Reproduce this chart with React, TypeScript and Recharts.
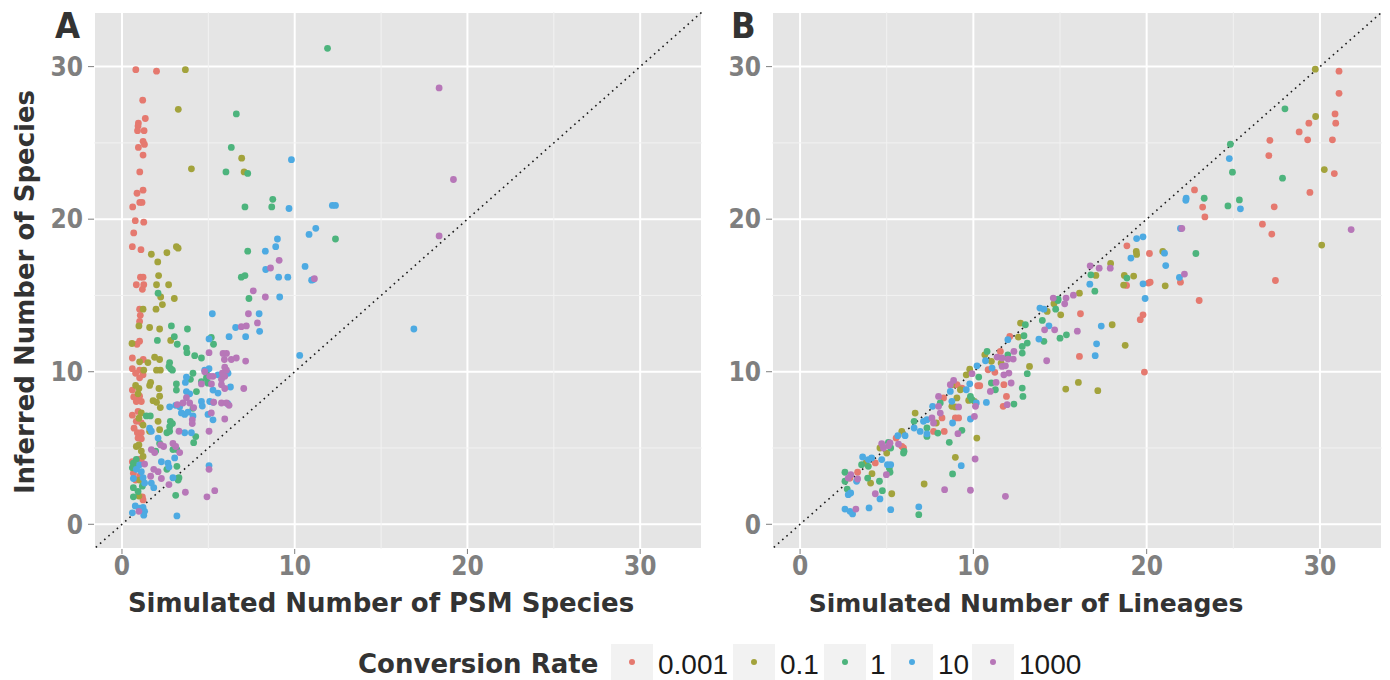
import React from "react";
import { ScatterChart, Scatter, XAxis, YAxis, CartesianGrid, ReferenceLine } from "recharts";

// conversion-rate levels and their colours
const RATES = ["0.001", "0.1", "1", "10", "1000"];
const COLORS = ["#E5796F", "#A3A33C", "#4DB47D", "#4DAAE2", "#B777B8"];
const TICKS = [0, 10, 20, 30];
const MINOR = [5, 15, 25];

// Panel A: [simulated PSM species, inferred species]
const a001 = [
  [0.8, 29.8], [2.0, 29.7], [1.2, 27.8], [1.35, 26.6], [0.95, 26.3], [0.93, 26.1], [0.9, 25.8], [1.28, 25.8],
  [1.22, 25.1], [1.3, 24.9], [0.95, 24.7], [1.22, 24.2], [1.03, 23.1], [1.22, 21.9], [0.87, 21.7], [1.03, 21.1],
  [1.16, 21.1], [0.62, 20.8], [0.77, 19.9], [1.26, 19.8], [0.68, 19.1], [0.6, 18.2], [1.1, 18.0], [1.07, 16.2],
  [1.22, 16.2], [0.83, 15.7], [1.26, 15.7], [1.18, 15.4], [1.02, 14.1], [1.06, 13.7], [1.02, 13.3], [0.87, 11.8],
  [1.02, 12.0], [0.6, 10.9], [1.23, 10.8], [0.6, 10.2], [1.02, 10.1], [0.79, 9.9], [1.22, 9.8], [1.02, 9.6],
  [0.6, 8.8], [0.68, 8.35], [0.83, 8.05], [1.12, 8.05], [1.02, 8.4], [0.6, 7.15], [0.93, 7.4], [0.83, 6.75],
  [1.12, 6.65], [0.7, 6.3], [0.89, 6.0], [1.12, 6.0], [0.93, 5.65], [1.12, 5.6], [0.6, 4.1], [0.98, 4.25],
  [1.12, 4.1], [0.66, 3.35], [0.79, 2.9], [1.02, 3.15], [1.18, 1.8], [1.22, 1.6],
];
const a01 = [
  [3.67, 29.8], [3.26, 27.2], [4.02, 23.3], [6.93, 24.0], [7.07, 23.1], [1.7, 17.7], [2.6, 17.8], [3.15, 18.2],
  [3.25, 18.1], [2.07, 17.2], [2.12, 16.3], [2.0, 15.7], [2.7, 15.7], [2.24, 14.9], [3.03, 14.8], [2.34, 14.4],
  [1.97, 14.1], [1.22, 14.1], [0.98, 13.0], [1.6, 12.9], [2.18, 12.8], [0.58, 11.85], [2.82, 12.05], [1.89, 10.95],
  [2.18, 10.8], [1.02, 10.65], [1.5, 10.6], [1.26, 10.1], [2.0, 10.1], [2.22, 10.1], [1.66, 9.3], [1.6, 9.1],
  [0.79, 9.1], [0.98, 8.9], [0.93, 8.55], [2.14, 8.9], [2.18, 8.4], [1.8, 8.1], [2.0, 8.0], [2.22, 7.65],
  [1.12, 7.3], [0.98, 6.95], [1.22, 6.5], [2.09, 6.75], [2.18, 6.2], [1.6, 6.1], [0.98, 5.2], [0.83, 5.1],
  [1.12, 4.8], [1.22, 4.45], [1.02, 2.9], [1.22, 2.8], [0.98, 1.85],
];
const a1 = [
  [6.62, 26.9], [6.33, 24.7], [6.02, 23.1], [7.28, 23.0], [8.73, 21.3], [8.67, 20.8], [7.12, 20.8], [7.28, 17.9],
  [6.91, 16.2], [7.12, 16.3], [11.9, 31.2], [12.36, 18.7], [2.09, 15.15], [7.35, 14.8], [2.86, 13.0], [3.79, 12.8],
  [2.05, 12.05], [3.03, 12.3], [3.2, 11.8], [5.17, 12.25], [5.3, 11.8], [3.73, 11.55], [3.76, 11.25], [4.21, 11.05],
  [4.6, 10.9], [2.76, 10.6], [2.72, 10.35], [2.82, 10.2], [2.92, 10.1], [4.11, 9.9], [3.96, 9.5], [4.6, 9.35],
  [4.89, 9.6], [4.98, 9.25], [4.89, 9.9], [4.31, 8.7], [3.15, 9.2], [3.15, 8.8], [4.11, 7.6], [1.41, 7.1],
  [1.64, 7.1], [2.8, 6.75], [2.92, 6.6], [2.76, 6.4], [2.6, 6.0], [2.76, 6.1], [4.27, 5.75], [4.15, 5.35],
  [2.18, 5.3], [1.95, 4.8], [2.95, 4.9], [3.18, 4.9], [0.66, 4.0], [0.83, 4.25], [0.6, 3.7], [0.87, 3.8],
  [2.6, 3.6], [3.18, 3.8], [0.66, 2.4], [0.93, 2.15], [1.18, 2.5], [3.3, 3.05], [3.25, 2.9], [0.66, 1.8],
  [3.11, 1.9],
];
const a10 = [
  [9.81, 23.9], [9.67, 20.7], [10.83, 19.0], [9.0, 18.7], [8.9, 18.2], [8.3, 17.9], [10.6, 16.9], [8.32, 16.7],
  [9.07, 16.2], [9.6, 16.2], [12.18, 20.9], [12.36, 20.9], [11.22, 19.4], [10.98, 16.0], [11.08, 16.05], [9.13, 14.9],
  [16.9, 12.8], [10.29, 11.07], [5.23, 13.8], [7.94, 13.8], [6.58, 12.9], [7.97, 12.65], [7.16, 12.3], [5.04, 12.15],
  [6.2, 12.3], [3.73, 9.65], [3.67, 9.3], [5.04, 10.2], [4.79, 10.1], [5.56, 9.8], [6.14, 9.9], [6.28, 9.0],
  [5.27, 8.8], [5.56, 8.6], [3.73, 8.7], [3.92, 8.55], [2.76, 7.7], [3.11, 7.8], [3.34, 7.7], [4.6, 8.05],
  [4.65, 7.75], [5.08, 8.05], [5.27, 8.0], [6.12, 7.9], [3.63, 7.2], [3.82, 7.35], [3.44, 7.3], [4.11, 7.1],
  [4.98, 7.2], [5.27, 6.85], [1.6, 6.3], [1.7, 6.1], [3.63, 6.0], [4.02, 6.0], [2.09, 5.65], [3.05, 4.35],
  [1.02, 3.9], [0.83, 3.6], [2.28, 4.1], [2.66, 4.0], [2.72, 3.75], [0.66, 3.0], [1.22, 3.05], [1.12, 3.45],
  [1.31, 2.7], [1.7, 2.7], [1.84, 2.4], [2.95, 3.05], [5.04, 3.85], [0.77, 1.2], [1.22, 1.1], [1.31, 0.85],
  [0.6, 0.75], [1.02, 1.05], [1.26, 0.6], [3.18, 0.55],
];
const a1000 = [
  [9.1, 17.3], [8.6, 16.8], [18.36, 28.6], [19.19, 22.6], [18.36, 18.9], [11.14, 16.1], [7.6, 15.3], [8.3, 14.9],
  [7.32, 13.8], [7.84, 13.2], [7.2, 13.0], [6.91, 12.95], [5.04, 11.25], [5.85, 11.2], [6.05, 11.2], [5.93, 10.8],
  [6.33, 10.8], [6.62, 10.9], [7.16, 10.7], [4.79, 10.0], [5.08, 9.7], [5.27, 9.7], [5.76, 9.5], [5.95, 9.7],
  [5.81, 9.9], [6.05, 10.1], [5.95, 10.3], [5.76, 9.15], [5.95, 8.9], [7.05, 8.9], [4.6, 9.2], [5.18, 9.2],
  [3.73, 8.3], [3.53, 7.95], [3.92, 7.95], [4.15, 7.65], [3.2, 7.85], [5.31, 8.0], [5.76, 7.95], [6.05, 7.95],
  [6.2, 7.8], [5.17, 7.3], [4.07, 6.85], [4.07, 6.6], [5.95, 6.9], [3.3, 6.1], [5.04, 6.1], [2.24, 5.2],
  [1.7, 4.9], [1.89, 4.7], [2.41, 5.1], [2.95, 5.3], [3.11, 5.1], [3.34, 4.7], [1.31, 3.95], [2.09, 3.45],
  [1.84, 3.6], [1.66, 3.15], [2.28, 3.0], [2.72, 2.6], [3.67, 2.1], [4.92, 1.8], [5.37, 2.2], [5.04, 3.6],
  [0.98, 0.85],
];

// Panel B: [simulated lineages, inferred species]
const b001 = [
  [2.88, 3.03], [3.32, 3.41], [4.34, 4.02], [5.87, 5.11], [5.97, 5.0], [5.54, 5.65], [7.7, 6.09], [8.19, 6.97],
  [8.32, 6.09], [8.28, 8.28], [8.96, 6.97], [9.15, 6.97], [9.34, 8.93], [9.05, 9.15], [10.25, 9.08], [10.37, 9.08],
  [10.85, 10.13], [11.24, 9.96], [11.56, 11.33], [12.1, 12.31], [11.76, 9.15], [11.91, 8.38], [11.72, 7.73],
  [31.1, 29.7], [31.1, 28.25], [30.87, 26.9], [30.91, 26.29], [29.36, 26.29], [28.8, 25.72], [29.29, 25.2],
  [30.72, 25.2], [27.11, 25.17], [27.05, 24.17], [30.83, 22.99], [29.42, 21.75], [22.76, 21.92], [23.23, 20.79],
  [23.36, 20.15], [27.36, 20.81], [26.68, 19.67], [27.22, 19.02], [27.43, 15.98], [18.86, 18.25], [20.16, 17.75],
  [18.84, 15.66], [20.1, 15.81], [20.2, 15.87], [21.95, 15.87], [23.03, 14.67], [19.79, 13.73], [19.63, 13.41],
  [16.18, 13.8], [16.12, 11.0], [19.87, 9.98],
];
const b01 = [
  [4.07, 2.7], [4.15, 3.32], [3.8, 4.02], [5.29, 2.0], [4.61, 5.0], [5.0, 4.67], [5.87, 6.09], [6.64, 7.29],
  [7.86, 6.64], [8.76, 9.15], [8.76, 7.73], [8.96, 7.69], [9.05, 8.28], [8.96, 4.39], [10.2, 5.65], [7.16, 2.64],
  [9.25, 8.82], [9.59, 9.8], [9.79, 10.17], [9.73, 8.12], [10.06, 8.06], [10.66, 11.11], [11.04, 10.68], [11.6, 10.57],
  [12.6, 12.27], [12.72, 13.19], [13.24, 10.35], [14.26, 13.95], [14.65, 14.45], [15.04, 13.73], [15.33, 8.86],
  [29.73, 29.83], [29.75, 26.73], [30.25, 23.25], [30.1, 18.3], [19.4, 17.88], [19.42, 17.69], [20.93, 17.88],
  [17.92, 17.1], [17.07, 16.31], [18.71, 16.31], [18.67, 15.68], [19.25, 16.27], [21.07, 15.63], [18.01, 13.08],
  [16.12, 15.15], [18.76, 11.73], [16.06, 9.3], [17.18, 8.76],
];
const b1 = [
  [2.59, 3.41], [2.59, 2.82], [2.72, 2.31], [6.85, 0.63], [4.75, 2.2], [3.9, 3.03], [4.58, 2.82], [5.19, 3.41],
  [5.15, 3.69], [3.55, 3.91], [3.94, 3.8], [5.1, 5.37], [5.23, 5.0], [6.0, 4.78], [5.97, 4.67], [6.58, 6.75],
  [7.32, 6.31], [7.32, 5.76], [7.95, 5.98], [8.09, 7.95], [9.34, 6.16], [8.61, 5.37], [8.8, 3.3], [9.83, 8.38],
  [9.92, 8.17], [10.31, 9.65], [10.79, 11.33], [11.04, 9.26], [11.27, 8.82], [11.99, 11.11], [12.82, 11.22],
  [13.0, 13.08], [12.92, 12.36], [12.82, 11.66], [13.11, 11.88], [12.34, 7.88], [12.82, 8.93], [12.86, 8.38],
  [13.11, 9.87], [14.07, 11.99], [13.98, 13.36], [14.75, 14.1], [14.88, 14.67], [15.37, 12.42], [15.0, 12.2],
  [27.98, 27.23], [24.83, 24.91], [24.95, 23.08], [27.84, 22.69], [23.32, 21.37], [24.69, 20.87], [25.35, 21.26],
  [22.84, 17.75], [16.78, 16.35], [17.01, 15.28], [18.86, 16.14], [14.89, 14.76],
];
const b10 = [
  [3.26, 2.82], [2.78, 1.94], [2.92, 2.05], [2.59, 1.0], [2.88, 0.85], [3.03, 0.68], [3.98, 1.07], [5.23, 0.96],
  [6.85, 1.14], [4.61, 1.66], [5.04, 3.91], [5.23, 3.91], [3.61, 4.41], [3.94, 4.24], [4.13, 4.35], [4.71, 4.24],
  [5.64, 5.81], [6.06, 5.81], [6.58, 6.31], [6.93, 6.09], [7.32, 5.92], [7.12, 6.75], [7.32, 6.86], [7.65, 7.73],
  [8.67, 8.71], [8.76, 8.06], [8.8, 6.64], [9.3, 3.84], [9.59, 8.82], [9.79, 9.21], [10.17, 7.95], [9.83, 6.9],
  [10.21, 10.39], [10.75, 7.99], [10.7, 10.72], [11.08, 10.24], [11.99, 12.1], [13.78, 12.14], [14.07, 14.1],
  [14.36, 13.01], [13.84, 14.17], [24.77, 23.97], [22.28, 21.37], [22.26, 21.24], [25.41, 20.68], [21.95, 19.39],
  [19.42, 18.73], [19.79, 18.84], [19.09, 17.45], [21.03, 17.77], [21.1, 16.96], [16.72, 15.74], [19.79, 15.76],
  [19.91, 14.8], [21.89, 16.18], [17.38, 12.99], [17.11, 11.83], [17.03, 11.05],
];
const b1000 = [
  [2.93, 3.25], [3.32, 2.97], [2.78, 3.03], [3.22, 1.0], [4.34, 2.0], [4.98, 3.25], [4.71, 5.28], [5.1, 5.15],
  [5.19, 5.33], [4.81, 5.0], [5.68, 5.26], [7.61, 6.97], [7.7, 6.64], [7.99, 7.73], [8.09, 7.29], [7.99, 8.38],
  [8.67, 9.15], [8.86, 9.43], [9.15, 7.69], [9.11, 5.94], [8.34, 2.27], [9.83, 2.23], [10.1, 4.28], [11.85, 1.83],
  [9.92, 9.87], [10.12, 7.73], [10.06, 7.07], [10.98, 8.71], [11.31, 9.3], [11.37, 10.96], [11.66, 10.9], [12.0, 10.83],
  [12.3, 10.83], [11.66, 10.35], [12.05, 9.91], [11.76, 9.8], [11.85, 10.39], [12.18, 9.26], [11.95, 7.84],
  [12.34, 11.33], [14.23, 10.72], [14.11, 12.75], [14.69, 12.75], [14.61, 14.83], [15.35, 14.83], [15.27, 14.45],
  [31.8, 19.32], [22.03, 19.39], [17.9, 16.79], [17.26, 16.79], [16.74, 16.94], [22.18, 16.4], [15.77, 15.02],
  [16.0, 12.66],
];

const panelA = [a001, a01, a1, a10, a1000];
const panelB = [b001, b01, b1, b10, b1000];

const DOMAIN: [number, number] = [-1.62, 33.58];
const COND = "'DejaVu Sans Condensed', 'DejaVu Sans', sans-serif";
const WIDE = "'DejaVu Sans', Verdana, sans-serif";
const tickStyle = { fill: "#7F7F7F", fontSize: 26, fontWeight: 700, fontFamily: COND, fontStretch: "condensed" };

const toPoints = (arr: number[][]) => arr.map(([x, y]) => ({ x, y }));

function Dot(props: any) {
  const { cx, cy, fill } = props;
  if (cx == null || cy == null) return null;
  return <circle cx={cx} cy={cy} r={3.4} fill={fill} />;
}

function Panel({ series, width, yWidth }: { series: number[][][]; width: number; yWidth: number }) {
  return (
    <ScatterChart width={width} height={620} margin={{ top: 12, right: 10, bottom: 0, left: 0 }}>
      <CartesianGrid fill="#E5E5E5" stroke="#FFFFFF" strokeWidth={2} />
      {MINOR.map((v) => (
        <ReferenceLine key={"mx" + v} x={v} stroke="#F2F2F2" strokeWidth={1} />
      ))}
      {MINOR.map((v) => (
        <ReferenceLine key={"my" + v} y={v} stroke="#F2F2F2" strokeWidth={1} />
      ))}
      <XAxis
        dataKey="x"
        type="number"
        domain={DOMAIN}
        allowDataOverflow
        ticks={TICKS}
        height={71}
        axisLine={false}
        tickSize={5}
        tickMargin={3}
        tickLine={{ stroke: "#7F7F7F" }}
        tick={tickStyle}
      />
      <YAxis
        dataKey="y"
        type="number"
        domain={DOMAIN}
        allowDataOverflow
        ticks={TICKS}
        width={yWidth}
        axisLine={false}
        tickSize={6}
        tickMargin={5}
        tickLine={{ stroke: "#7F7F7F" }}
        tick={tickStyle}
      />
      {series.map((s, i) => (
        <Scatter key={RATES[i]} name={RATES[i]} data={toPoints(s)} fill={COLORS[i]} shape={Dot} isAnimationActive={false} />
      ))}
      <ReferenceLine
        segment={[{ x: -2, y: -2 }, { x: 34, y: 34 }]}
        ifOverflow="hidden"
        stroke="#1A1A1A"
        strokeWidth={1.6}
        strokeDasharray="1.6 4"
      />
    </ScatterChart>
  );
}

export default function App() {
  const letterStyle = { fontFamily: COND, fontWeight: 700, fontStretch: "condensed", fill: "#333333" } as any;
  const titleStyle = { fontFamily: WIDE, fontWeight: 700, fill: "#333333" } as any;
  const legendX = [611, 733, 824, 891, 972];
  const labelX = [658, 780, 870, 938, 1019];
  return (
    <div style={{ position: "absolute", left: 0, top: 0, width: 1390, height: 680, background: "#FFFFFF" }}>
      <div style={{ position: "absolute", left: 0, top: 0 }}>
        <Panel series={panelA} width={712} yWidth={94} />
      </div>
      <div style={{ position: "absolute", left: 700, top: 0 }}>
        <Panel series={panelB} width={692} yWidth={72} />
      </div>
      <svg width={1390} height={680} style={{ position: "absolute", left: 0, top: 0, pointerEvents: "none" }}>
        <text x={55} y={38} fontSize={36} {...letterStyle}>A</text>
        <text x={731} y={38} fontSize={36} {...letterStyle}>B</text>
        <text x={34} y={292} fontSize={26} textAnchor="middle" transform="rotate(-90 34 292)" {...titleStyle}>
          Inferred Number of Species
        </text>
        <text x={381} y={612} fontSize={26} textAnchor="middle" {...titleStyle}>
          Simulated Number of PSM Species
        </text>
        <text x={1026} y={612} fontSize={25} textAnchor="middle" {...titleStyle}>
          Simulated Number of Lineages
        </text>
        <text x={358} y={673} fontSize={26} {...titleStyle}>Conversion Rate</text>
        {RATES.map((r, i) => (
          <g key={r}>
            <rect x={legendX[i]} y={644} width={42} height={36} fill="#F2F2F2" />
            <circle cx={legendX[i] + 21} cy={662} r={3} fill={COLORS[i]} />
            <text x={labelX[i]} y={674} fontSize={28} fontFamily="'Liberation Sans', Arial, sans-serif" fill="#1A1A1A">
              {r}
            </text>
          </g>
        ))}
      </svg>
    </div>
  );
}
